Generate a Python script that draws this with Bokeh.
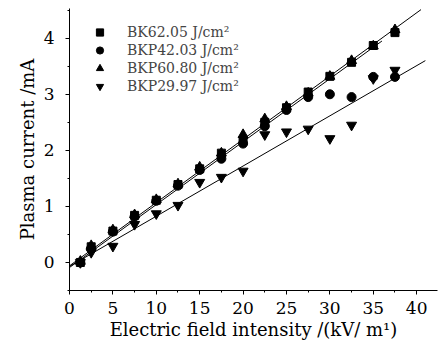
import math
from bokeh.plotting import figure
from bokeh.models import Range1d, SingleIntervalTicker, Legend, LegendItem, Title
from bokeh.embed import file_html
from bokeh.resources import INLINE

# ---- data ----
x_vals = [1.25, 2.5, 5, 7.5, 10, 12.5, 15, 17.5, 20, 22.5, 25, 27.5, 30, 32.5, 35, 37.5]
bk6205 = [0.0, 0.28, 0.56, 0.84, 1.11, 1.39, 1.67, 1.95, 2.18, 2.50, 2.76, 3.04, 3.32, 3.57, 3.87, 4.10]
bkp4203 = [0.0, 0.25, 0.55, 0.82, 1.10, 1.37, 1.65, 1.85, 2.12, 2.43, 2.72, 2.95, 3.00, 2.95, 3.31, 3.31]
bkp6080 = [0.02, 0.30, 0.58, 0.85, 1.12, 1.40, 1.70, 1.95, 2.28, 2.56, 2.78, 3.02, 3.32, 3.60, 3.86, 4.15]
bkp2997 = [0.0, 0.18, 0.29, 0.68, 0.87, 1.02, 1.43, 1.52, 1.63, 2.28, 2.33, 2.38, 2.21, 2.45, 3.28, 3.43]

fit1_x = [0, 40.5]
fit1_y = [-0.06, 4.51]
fit2_x = [0, 36]
fit2_y = [-0.09, 3.95]
fit3_x = [0, 41]
fit3_y = [-0.07, 3.60]

labels = ["BK62.05 J/cm\u00b2", "BKP42.03 J/cm\u00b2", "BKP60.80 J/cm\u00b2", "BKP29.97 J/cm\u00b2"]
x_title = "Electric field intensity /(kV/ m\u00b9)"
y_title = "Plasma current /mA"

FONT = "DejaVu Serif"

p = figure(width=445, height=348, x_range=Range1d(0, 42.4), y_range=Range1d(-0.5, 4.53),
           output_backend="svg", toolbar_location=None,
           min_border_left=69, min_border_right=8, min_border_top=8, min_border_bottom=58)
p.outline_line_color = None
p.xgrid.visible = False
p.ygrid.visible = False
p.background_fill_color = "white"

for fx, fy in [(fit1_x, fit1_y), (fit2_x, fit2_y), (fit3_x, fit3_y)]:
    p.line(fx, fy, line_color="black", line_width=1)

r1 = p.scatter(x_vals, bk6205, marker="square", size=8, color="black")
r2 = p.scatter(x_vals, bkp4203, marker="circle", size=9, color="black")
r3 = p.scatter(x_vals, bkp6080, marker="triangle", size=10, color="black")
r4 = p.scatter(x_vals, bkp2997, marker="inverted_triangle", size=10, color="black")

legend = Legend(items=[LegendItem(label=labels[i], renderers=[r]) for i, r in enumerate([r1, r2, r3, r4])],
                location="top_left", margin=15, padding=0, spacing=0,
                glyph_width=31, glyph_height=18, label_height=18, label_standoff=12,
                label_text_font=FONT, label_text_font_size="14px",
                border_line_color=None, background_fill_alpha=0)
p.add_layout(legend)

p.xaxis.ticker = SingleIntervalTicker(interval=5, num_minor_ticks=2)
p.yaxis.ticker = SingleIntervalTicker(interval=1, num_minor_ticks=2)
for ax in (p.xaxis[0], p.yaxis[0]):
    ax.major_tick_in = 0
    ax.major_tick_out = 4
    ax.minor_tick_in = 0
    ax.minor_tick_out = 2
    ax.axis_line_color = "black"
    ax.major_tick_line_color = "black"
    ax.minor_tick_line_color = "black"
    ax.major_label_text_font = FONT
    ax.major_label_text_font_size = "17px"
    ax.major_label_text_color = "black"
    ax.axis_label_text_font = FONT
    ax.axis_label_text_font_size = "18px"
    ax.axis_label_text_font_style = "normal"
    ax.axis_label_text_color = "black"

p.xaxis.axis_label = x_title
p.xaxis.major_label_standoff = 7
p.xaxis.axis_label_standoff = 2
p.yaxis.major_label_standoff = 11

ytitle = Title(text=y_title, align="center", offset=8, standoff=6,
               text_font=FONT, text_font_size="18px", text_font_style="normal", text_color="black")
p.add_layout(ytitle, "left")

open("out.html", "w").write(file_html(p, INLINE))
